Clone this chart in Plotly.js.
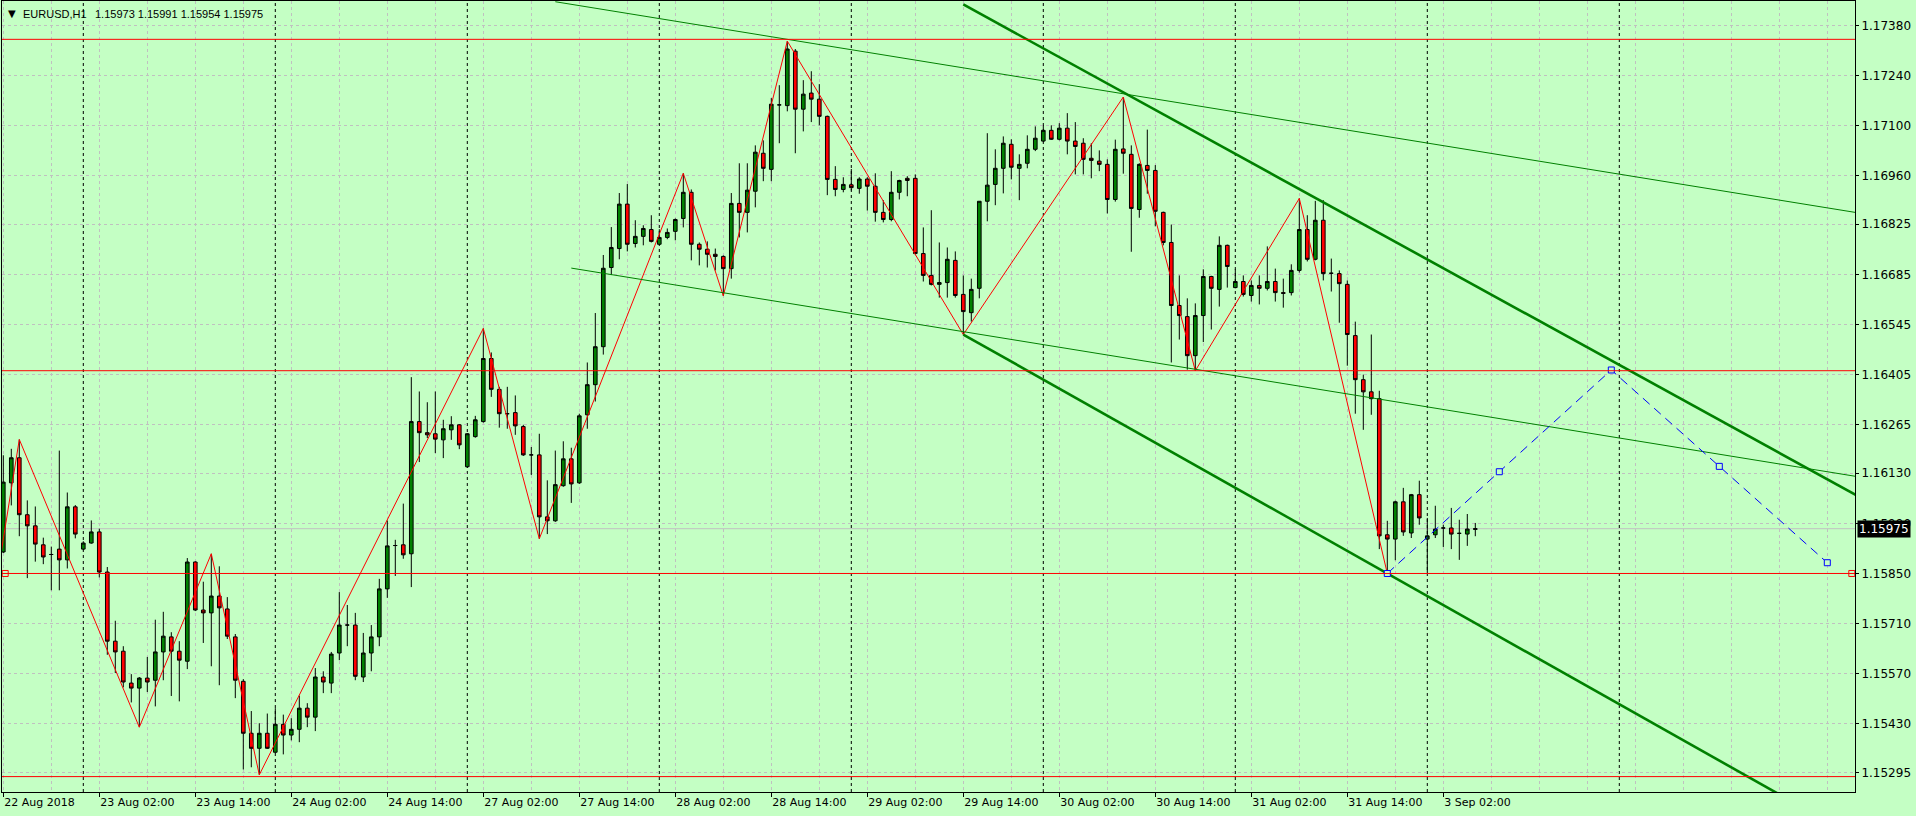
<!DOCTYPE html>
<html>
<head>
<meta charset="utf-8">
<script src="https://cdn.plot.ly/plotly-3.0.1.min.js"></script>
<style>
html,body{margin:0;padding:0;background:#c4ffc4;}
#chart{width:1916px;height:816px;}
</style>
</head>
<body>
<div id="chart"></div>
<script>
// ---------- data ----------
const symbol = 'EURUSD,H1';
const tradingDays = ['22 Aug','23 Aug','24 Aug','27 Aug','28 Aug','29 Aug','30 Aug','31 Aug','3 Sep'];
const firstDayStartHour = 14;
const lastDayEndHour = 6;
const firstLabel = '22 Aug 2018';

const open = [
1.15910,1.16103,1.16173,1.16014,1.15983,1.15930,1.15903,1.15918,1.15888,1.16036,
1.15918,1.15935,1.15966,1.15854,1.15661,1.15633,1.15544,1.15530,1.15558,1.15552,
1.15631,1.15673,1.15633,1.15605,1.15882,1.15748,1.15740,1.15787,1.15751,1.15673,
1.15549,1.15404,1.15362,1.15404,1.15351,1.15429,1.15399,1.15415,1.15474,1.15449,
1.15561,1.15544,1.15628,1.15706,1.15706,1.15561,1.15628,1.15673,1.15807,1.15928,
1.15930,1.15905,1.16274,1.16243,1.16240,1.16223,1.16251,1.16265,1.16148,1.16232,
1.16274,1.16450,1.16364,1.16296,1.16299,1.16260,1.16181,1.16181,1.16008,1.15997,
1.16095,1.16170,1.16103,1.16293,1.16377,1.16483,1.16704,1.16757,1.16881,1.16771,
1.16791,1.16810,1.16769,1.16788,1.16805,1.16841,1.16914,1.16769,1.16755,1.16741,
1.16735,1.16701,1.16883,1.16858,1.16917,1.17023,1.16978,1.17158,1.17156,1.17308,
1.17146,1.17191,1.17174,1.17126,1.16950,1.16922,1.16935,1.16925,1.16951,1.16931,
1.16858,1.16838,1.16914,1.16953,1.16953,1.16743,1.16682,1.16657,1.16662,1.16724,
1.16629,1.16578,1.16646,1.16889,1.16936,1.16981,1.17048,1.16981,1.16995,1.17034,
1.17057,1.17087,1.17062,1.17093,1.17057,1.17051,1.17009,1.17001,1.16992,1.16894,
1.17035,1.17020,1.16866,1.16989,1.16975,1.16858,1.16774,1.16598,1.16567,1.16458,
1.16570,1.16679,1.16643,1.16766,1.16648,1.16665,1.16626,1.16654,1.16646,1.16665,
1.16634,1.16634,1.16696,1.16810,1.16727,1.16836,1.16688,1.16687,1.16657,1.16514,
1.16391,1.16357,1.16338,1.15958,1.15946,1.16050,1.15963,1.16070,1.15946,1.15958,
1.15977,1.15977,1.15962,1.15960,1.15973];
const high = [
1.16180,1.16198,1.16224,1.16054,1.16037,1.15950,1.15925,1.16193,1.16076,1.16041,
1.15940,1.15998,1.15975,1.15868,1.15718,1.15647,1.15569,1.15561,1.15617,1.15721,
1.15743,1.15686,1.15661,1.15893,1.15884,1.15827,1.15905,1.15870,1.15784,1.15681,
1.15555,1.15466,1.15432,1.15459,1.15474,1.15456,1.15446,1.15509,1.15488,1.15586,
1.15577,1.15631,1.15798,1.15762,1.15740,1.15684,1.15706,1.15835,1.15998,1.15944,
1.16045,1.16398,1.16358,1.16328,1.16358,1.16279,1.16289,1.16267,1.16242,1.16290,
1.16534,1.16467,1.16371,1.16371,1.16347,1.16265,1.16203,1.16240,1.16110,1.16193,
1.16219,1.16201,1.16296,1.16439,1.16577,1.16739,1.16817,1.16912,1.16937,1.16836,
1.16822,1.16850,1.16811,1.16813,1.16841,1.16967,1.16922,1.16774,1.16777,1.16757,
1.16738,1.16912,1.16995,1.16995,1.17045,1.17059,1.17177,1.17213,1.17336,1.17314,
1.17227,1.17252,1.17216,1.17128,1.16987,1.16956,1.16979,1.16956,1.16956,1.16967,
1.16892,1.16973,1.16949,1.16959,1.16964,1.16816,1.16864,1.16774,1.16760,1.16749,
1.16682,1.16673,1.16889,1.17079,1.17034,1.17070,1.17062,1.17020,1.17073,1.17098,
1.17101,1.17101,1.17107,1.17135,1.17110,1.17065,1.17051,1.17031,1.17006,1.17061,
1.17180,1.17045,1.16995,1.17089,1.16990,1.16860,1.16824,1.16682,1.16618,1.16604,
1.16699,1.16681,1.16791,1.16768,1.16699,1.16682,1.16668,1.16682,1.16763,1.16701,
1.16673,1.16713,1.16897,1.16850,1.16890,1.16892,1.16729,1.16696,1.16668,1.16553,
1.16405,1.16517,1.16360,1.15997,1.16053,1.16089,1.16072,1.16109,1.16005,1.16039,
1.15986,1.16033,1.16000,1.16016,1.15991];
const low = [
1.15907,1.16040,1.15954,1.15837,1.15883,1.15876,1.15803,1.15803,1.15864,1.15948,
1.15915,1.15933,1.15839,1.15623,1.15572,1.15532,1.15490,1.15421,1.15519,1.15479,
1.15552,1.15508,1.15493,1.15583,1.15745,1.15656,1.15591,1.15538,1.15667,1.15502,
1.15303,1.15309,1.15288,1.15360,1.15348,1.15345,1.15384,1.15379,1.15421,1.15410,
1.15516,1.15516,1.15608,1.15647,1.15552,1.15547,1.15577,1.15647,1.15782,1.15843,
1.15891,1.15812,1.16161,1.16228,1.16186,1.16172,1.16223,1.16197,1.16145,1.16229,
1.16271,1.16343,1.16257,1.16254,1.16237,1.16178,1.16125,1.15947,1.15960,1.15994,
1.16092,1.16047,1.16100,1.16254,1.16330,1.16461,1.16683,1.16727,1.16749,1.16760,
1.16766,1.16774,1.16767,1.16783,1.16780,1.16816,1.16724,1.16710,1.16704,1.16696,
1.16625,1.16673,1.16788,1.16802,1.16872,1.16945,1.16945,1.17051,1.17140,1.17023,
1.17084,1.17110,1.17101,1.16906,1.16903,1.16914,1.16919,1.16910,1.16863,1.16832,
1.16830,1.16833,1.16894,1.16903,1.16741,1.16665,1.16654,1.16620,1.16620,1.16620,
1.16517,1.16553,1.16618,1.16833,1.16878,1.16911,1.16950,1.16892,1.16981,1.17029,
1.17054,1.17060,1.17059,1.17020,1.16964,1.16964,1.16953,1.16973,1.16855,1.16888,
1.16966,1.16748,1.16843,1.16910,1.16819,1.16766,1.16439,1.16503,1.16419,1.16416,
1.16496,1.16531,1.16595,1.16648,1.16646,1.16623,1.16609,1.16601,1.16640,1.16609,
1.16592,1.16626,1.16690,1.16721,1.16724,1.16668,1.16637,1.16550,1.16430,1.16296,
1.16251,1.16293,1.15918,1.15850,1.15887,1.15955,1.15949,1.15986,1.15851,1.15949,
1.15924,1.15918,1.15888,1.15927,1.15954];
const close = [
1.16105,1.16173,1.16014,1.15983,1.15932,1.15896,1.15903,1.15888,1.16036,1.15960,
1.15935,1.15966,1.15854,1.15661,1.15631,1.15547,1.15530,1.15558,1.15547,1.15631,
1.15675,1.15633,1.15608,1.15882,1.15748,1.15740,1.15787,1.15754,1.15675,1.15552,
1.15404,1.15362,1.15404,1.15362,1.15429,1.15399,1.15415,1.15474,1.15449,1.15561,
1.15547,1.15625,1.15706,1.15706,1.15563,1.15628,1.15673,1.15807,1.15927,1.15928,
1.15902,1.16274,1.16243,1.16237,1.16225,1.16254,1.16265,1.16209,1.16240,1.16279,
1.16450,1.16364,1.16296,1.16296,1.16262,1.16181,1.16181,1.16008,1.15997,1.16098,
1.16170,1.16100,1.16290,1.16377,1.16483,1.16702,1.16760,1.16881,1.16769,1.16791,
1.16813,1.16777,1.16788,1.16802,1.16838,1.16914,1.16769,1.16755,1.16741,1.16735,
1.16701,1.16883,1.16858,1.16920,1.17026,1.16981,1.17160,1.17158,1.17314,1.17146,
1.17188,1.17174,1.17126,1.16950,1.16922,1.16936,1.16927,1.16951,1.16931,1.16858,
1.16838,1.16914,1.16947,1.16947,1.16743,1.16682,1.16657,1.16662,1.16727,1.16626,
1.16581,1.16643,1.16889,1.16934,1.16981,1.17051,1.16984,1.16992,1.17034,1.17065,
1.17087,1.17062,1.17093,1.17057,1.17042,1.17006,1.17003,1.16992,1.16894,1.17034,
1.17023,1.16869,1.16992,1.16975,1.16861,1.16774,1.16598,1.16570,1.16458,1.16570,
1.16679,1.16646,1.16766,1.16707,1.16665,1.16629,1.16654,1.16646,1.16665,1.16634,
1.16632,1.16696,1.16810,1.16727,1.16836,1.16687,1.16688,1.16659,1.16517,1.16391,
1.16357,1.16338,1.15955,1.15946,1.16050,1.15966,1.16070,1.16005,1.15955,1.15974,
1.15977,1.15960,1.15962,1.15974,1.15975];

// price scale labels (as shown on the right)
const priceTicks = ['1.17380','1.17240','1.17100','1.16960','1.16825','1.16685','1.16545','1.16405',
                    '1.16265','1.16130','1.15990','1.15850','1.15710','1.15570','1.15430','1.15295'];

// ZigZag indicator vertices (bar index, price)
const zigzagBars   = [-1, 2, 17, 26, 32, 60, 67, 85, 90, 98, 120, 140, 149, 162, 173];
const zigzagPrices = [1.15807,1.16224,1.15421,1.15905,1.15288,1.16534,1.15947,1.16967,1.16625,1.17336,1.16517,1.17180,1.16416,1.16897,1.15850];

// horizontal levels (red)
const hLevels = [1.17341, 1.16416, 1.15850, 1.15283];
const selectedLevel = 1.15850;

// thin equidistant channel
const thinUpperStart = 69, thinLowerStart = 71;
const thinUpperBars = [98, 140],  thinUpperPrices = [1.17341, 1.17189];
const thinLowerBars = [120, 149], thinLowerPrices = [1.16525, 1.16420];
// thick equidistant channel (starts at bar 120)
const thickStart = 120;
const thickUpperBars = [140, 162], thickUpperPrices = [1.17193, 1.16923];
const thickLowerBars = [120, 173], thickLowerPrices = [1.16517, 1.15850];

// projected path (blue dashed)
const projBars   = [173, 201, 228];
const projPrices = [1.15850, 1.16418, 1.15880];

const bid = 1.15975;

// ---------- build time axis ----------
const times = [];
const hours = [];
tradingDays.forEach((d, k) => {
  const h0 = k === 0 ? firstDayStartHour : 0;
  const h1 = k === tradingDays.length - 1 ? lastDayEndHour : 23;
  for (let h = h0; h <= h1; h++) {
    times.push(d + ' ' + String(h).padStart(2, '0') + ':00');
    hours.push(h);
  }
});
const N = times.length;
const idx = times.map((t, i) => i);

const tickvals = [], ticktext = [];
for (let i = 0; i < N; i += 12) {
  tickvals.push(i);
  ticktext.push(i === 0 ? firstLabel : times[i]);
}
const daySeps = idx.filter(i => hours[i] === 0);
daySeps.push(daySeps[daySeps.length - 1] + 24);

// ---------- axis ranges ----------
const xRange = [-0.1625, 231.4625];
const yRange = [1.15240, 1.17448];
const BG = '#c4ffc4';
const GRID = '#c0c0c0';
const FONT = 'DejaVu Sans, Verdana, sans-serif';
const HFONT = 'Liberation Sans, Arial, sans-serif';

function extend(bars, prices, x0, x1) {
  const s = (prices[1] - prices[0]) / (bars[1] - bars[0]);
  const f = x => prices[0] + s * (x - bars[0]);
  return { x: [x0, x1], y: [f(x0), f(x1)] };
}
const xEnd = xRange[1] + 1;

const traces = [];
traces.push({
  type: 'candlestick', x: idx, open: open, high: high, low: low, close: close,
  increasing: { line: { color: '#000000', width: 1 }, fillcolor: '#008000' },
  decreasing: { line: { color: '#000000', width: 1 }, fillcolor: '#ff0000' },
  whiskerwidth: 0, hoverinfo: 'skip', showlegend: false
});
traces.push({
  type: 'scatter', mode: 'lines', x: zigzagBars, y: zigzagPrices,
  line: { color: '#ff0000', width: 1 }, hoverinfo: 'skip'
});
[[thinUpperBars, thinUpperPrices, thinUpperStart, 1],
 [thinLowerBars, thinLowerPrices, thinLowerStart, 1],
 [thickUpperBars, thickUpperPrices, thickStart, 2.6],
 [thickLowerBars, thickLowerPrices, thickStart, 2.6]].forEach(([b, p, st, w]) => {
  const l = extend(b, p, st, xEnd);
  traces.push({ type: 'scatter', mode: 'lines', x: l.x, y: l.y,
    line: { color: '#008000', width: w }, hoverinfo: 'skip' });
});
// projected path with mid-point handles
const projX = [], projY = [];
for (let k = 0; k < projBars.length; k++) {
  projX.push(projBars[k]); projY.push(projPrices[k]);
  if (k < projBars.length - 1) {
    projX.push((projBars[k] + projBars[k + 1]) / 2);
    projY.push((projPrices[k] + projPrices[k + 1]) / 2);
  }
}
traces.push({
  type: 'scatter', mode: 'lines', x: projX, y: projY,
  line: { color: '#0000ff', width: 1, dash: '9px,6px' }, hoverinfo: 'skip'
});
traces.push({
  type: 'scatter', mode: 'markers', x: projX, y: projY,
  marker: { symbol: 'square', size: 6, color: BG, line: { color: '#0000ff', width: 1 } },
  hoverinfo: 'skip'
});
traces.push({
  type: 'scatter', mode: 'markers', x: [xRange[0] + 0.4, xRange[1] - 0.4], y: [selectedLevel, selectedLevel],
  marker: { symbol: 'square', size: 6, color: BG, line: { color: '#ff0000', width: 1 } },
  hoverinfo: 'skip', cliponaxis: false
});

const shapes = [];
daySeps.forEach(i => shapes.push({
  type: 'line', xref: 'x', yref: 'paper', x0: i, x1: i, y0: 0, y1: 1, layer: 'below',
  line: { color: '#000000', width: 1, dash: '3px,3px' }
}));
shapes.push({
  type: 'line', xref: 'paper', yref: 'y', x0: 0, x1: 1, y0: bid, y1: bid, layer: 'below',
  line: { color: '#c0c0c0', width: 1 }
});
hLevels.forEach(v => shapes.push({
  type: 'line', xref: 'paper', yref: 'y', x0: 0, x1: 1, y0: v, y1: v, layer: 'above',
  line: { color: '#ff0000', width: 1 }
}));

const last = N - 1;
const annotations = [
  { xref: 'paper', yref: 'paper', x: 0, y: 1, xanchor: 'left', yanchor: 'top', xshift: 4, yshift: -5,
    text: '▼', showarrow: false, font: { family: FONT, size: 10, color: '#000' } },
  { xref: 'paper', yref: 'paper', x: 0, y: 1, xanchor: 'left', yanchor: 'top', xshift: 19, yshift: -5,
    text: symbol, showarrow: false, font: { family: HFONT, size: 11, color: '#000' } },
  { xref: 'paper', yref: 'paper', x: 0, y: 1, xanchor: 'left', yanchor: 'top', xshift: 91, yshift: -5,
    text: [open[last], high[last], low[last], close[last]].map(v => v.toFixed(5)).join(' '),
    showarrow: false, font: { family: HFONT, size: 11, color: '#000' } },
  { xref: 'paper', yref: 'y', x: 1, y: bid, xanchor: 'left', yanchor: 'middle', xshift: 2,
    text: bid.toFixed(5), showarrow: false, bgcolor: '#000000', borderpad: 1,
    font: { family: FONT, size: 12, color: '#ffffff' } }
];

const layout = {
  width: 1916, height: 816,
  margin: { l: 2, r: 61, t: 1, b: 24, pad: 0 },
  paper_bgcolor: BG, plot_bgcolor: BG,
  showlegend: false, hovermode: false, dragmode: false,
  boxgap: 0.35,
  xaxis: {
    type: 'linear', range: xRange, rangeslider: { visible: false },
    tickmode: 'array', tickvals: tickvals, ticktext: ticktext,
    ticks: 'outside', ticklen: 4, tickcolor: '#000', tickwidth: 1,
    ticklabelposition: 'outside right',
    tickfont: { family: FONT, size: 11, color: '#000' },
    showgrid: true, gridcolor: GRID, gridwidth: 1, griddash: '3px,3px',
    minor: { tick0: 0, dtick: 6, showgrid: true, gridcolor: GRID, gridwidth: 1, griddash: '3px,3px', ticks: '' },
    showline: true, mirror: true, linecolor: '#000', linewidth: 1, zeroline: false, fixedrange: true
  },
  yaxis: {
    side: 'right', range: yRange,
    tickmode: 'array', tickvals: priceTicks.map(Number), ticktext: priceTicks,
    ticks: 'outside', ticklen: 3, tickcolor: '#000',
    tickfont: { family: FONT, size: 12, color: '#000' },
    showgrid: true, gridcolor: GRID, gridwidth: 1, griddash: '3px,3px',
    showline: true, mirror: true, linecolor: '#000', linewidth: 1, zeroline: false, fixedrange: true
  },
  shapes: shapes,
  annotations: annotations
};

Plotly.newPlot('chart', traces, layout, { displayModeBar: false, staticPlot: true });
</script>
</body>
</html>
